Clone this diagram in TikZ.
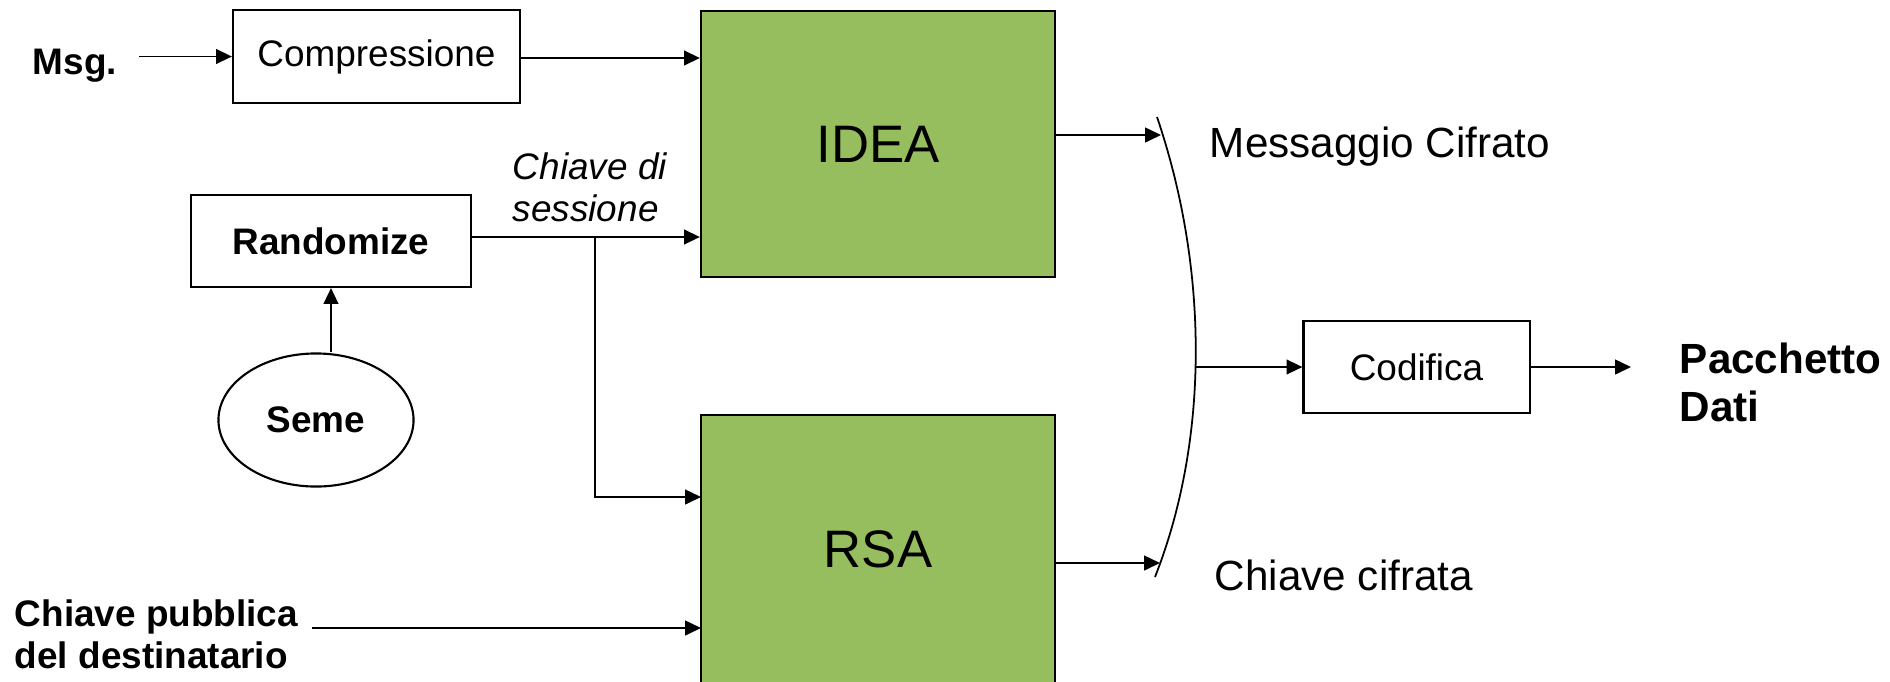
\documentclass[tikz,border=0pt]{standalone}
\usepackage{fontspec}
\setmainfont{Liberation Sans}
\usetikzlibrary{arrows.meta,shapes.geometric}
\definecolor{algogreen}{RGB}{150,190,95}

\begin{document}
\begin{tikzpicture}[x=0.01cm, y=-0.01cm, line width=0.5pt,
    >={Triangle[length=4.5pt,width=4.2pt]},
    box/.style={draw, line width=0.6pt, inner sep=0pt, font=\fontsize{10.5}{12}\selectfont},
    algo/.style={draw, line width=0.6pt, fill=algogreen, minimum width=3.54cm, minimum height=2.66cm, font=\fontsize{15}{18}\selectfont},
    txt/.style={inner sep=0pt, font=\fontsize{12}{13.7}\selectfont},
    bold/.style={inner sep=0pt, align=left, font=\fontsize{10.5}{11.8}\selectfont\bfseries}]

  \useasboundingbox (0,0) rectangle (1890,681);

  \node [bold, anchor=base west] (msg) at (32,74) {Msg.};
  \node [box, minimum width=2.87cm, minimum height=0.93cm] (compr) at (376.5,56.5) {Compressione};
  \node [algo] (idea) at (878,144) {IDEA};
  \node [box, font=\fontsize{10.5}{12}\selectfont\bfseries, minimum width=2.80cm, minimum height=0.92cm] (rand) at (331,241) {Randomize};
  \node [draw, ellipse, line width=0.6pt, inner sep=0pt, minimum width=1.95cm, minimum height=1.33cm, font=\fontsize{10.5}{12}\selectfont\bfseries] (seme) at (316,420) {Seme};
  \node [inner sep=0pt, anchor=west, align=left, font=\fontsize{10.5}{11.9}\selectfont\itshape] (sess) at (512,187.5) {Chiave di\\sessione};
  \node [algo, minimum height=2.69cm] (rsa) at (878,549.5) {RSA};
  \node [bold, anchor=west] (pubkey) at (14,634.5) {Chiave pubblica\\del destinatario};
  \node [box, minimum width=2.26cm, minimum height=0.92cm] (codif) at (1416.5,367) {Codifica};
  \node [txt, anchor=base west] (msgcif) at (1209,157) {Messaggio Cifrato};
  \node [txt, anchor=base west] (keycif) at (1214,590) {Chiave cifrata};
  \node [txt, anchor=west, align=left, font=\fontsize{12}{13.7}\selectfont\bfseries] (pkt) at (1679,382.5) {Pacchetto\\Dati};

  \coordinate (split) at (595,237);
  \coordinate (comprout) at (520,58);
  \coordinate (rsakey) at (701,497);
  \coordinate (rsapub) at (701,628);
  \coordinate (ideaout) at (1161,135);
  \coordinate (rsaout) at (1160,563);
  \coordinate (merge) at (1196,367);
  \coordinate (pktin) at (1631,367);

  \draw (1157,117) .. controls (1209,270) and (1209,440) .. (1155,577);

  \draw [->, shorten <=0.21cm] (msg.east |- compr.west) -- (compr.west);
  \draw [->] (compr.east |- comprout) -- (comprout -| idea.west);
  \draw [->] (rand.east |- split) -- (split -| idea.west);
  \draw [->] (split) |- (rsakey);
  \draw [->] (seme.north -| rand.south) -- (rand.south);
  \draw [->, shorten <=0.13cm] (pubkey.east |- rsapub) -- (rsapub);
  \draw [->] (idea.east |- ideaout) -- (ideaout);
  \draw [->] (rsa.east |- rsaout) -- (rsaout);
  \draw [->] (merge) -- (codif.west);
  \draw [->] (codif.east) -- (pktin);
\end{tikzpicture}
\end{document}
